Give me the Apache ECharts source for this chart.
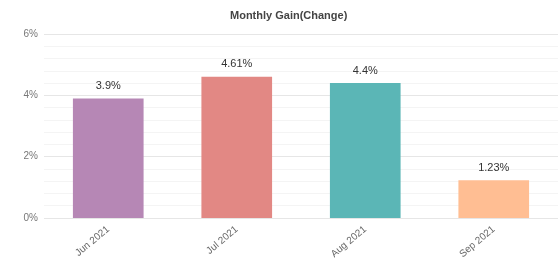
<!DOCTYPE html>
<html>
<head>
<meta charset="utf-8">
<script src="https://cdn.jsdelivr.net/npm/echarts@6/dist/echarts.min.js"></script>
<style>
  html, body { margin: 0; padding: 0; background: #fff; }
  #main { width: 560px; height: 269px; }
</style>
</head>
<body>
<div id="main"></div>
<script>
// monthly gain data
var months = ['Jun 2021', 'Jul 2021', 'Aug 2021', 'Sep 2021'];
var gains = [3.9, 4.61, 4.4, 1.23];
var barColors = ['#b687b5', '#e28884', '#5bb6b6', '#ffbe93'];

var chart = echarts.init(document.getElementById('main'));

var option = {
  animation: false,
  title: {
    text: 'Monthly Gain(Change)',
    left: 225,
    top: 5,
    textStyle: {
      fontFamily: 'Liberation Sans',
      fontSize: 11,
      fontWeight: 'bold',
      color: '#444'
    }
  },
  grid: {
    left: 44,
    right: 2,
    top: 34,
    bottom: 51
  },
  xAxis: {
    type: 'category',
    data: months,
    axisLine: { show: false },
    axisTick: { show: false },
    axisLabel: {
      rotate: 40,
      margin: 10,
      fontFamily: 'Liberation Sans',
      fontSize: 10,
      color: '#666'
    }
  },
  yAxis: {
    type: 'value',
    min: 0,
    max: 6,
    interval: 2,
    axisLine: { show: false },
    axisTick: { show: false },
    axisLabel: {
      formatter: '{value}%',
      margin: 6,
      fontFamily: 'Liberation Sans',
      fontSize: 10,
      color: '#777'
    },
    splitLine: { lineStyle: { color: '#e6e6e6' } },
    minorTick: { show: false, splitNumber: 5 },
    minorSplitLine: { show: true, lineStyle: { color: '#f4f4f4' } }
  },
  series: [{
    type: 'bar',
    barWidth: '55%',
    data: gains.map(function (v, i) {
      return { value: v, itemStyle: { color: barColors[i] } };
    }),
    label: {
      show: true,
      position: 'top',
      distance: 7,
      formatter: function (p) { return p.value + '%'; },
      fontFamily: 'Liberation Sans',
      fontSize: 11,
      color: '#333'
    }
  }]
};

chart.setOption(option);
</script>
</body>
</html>
